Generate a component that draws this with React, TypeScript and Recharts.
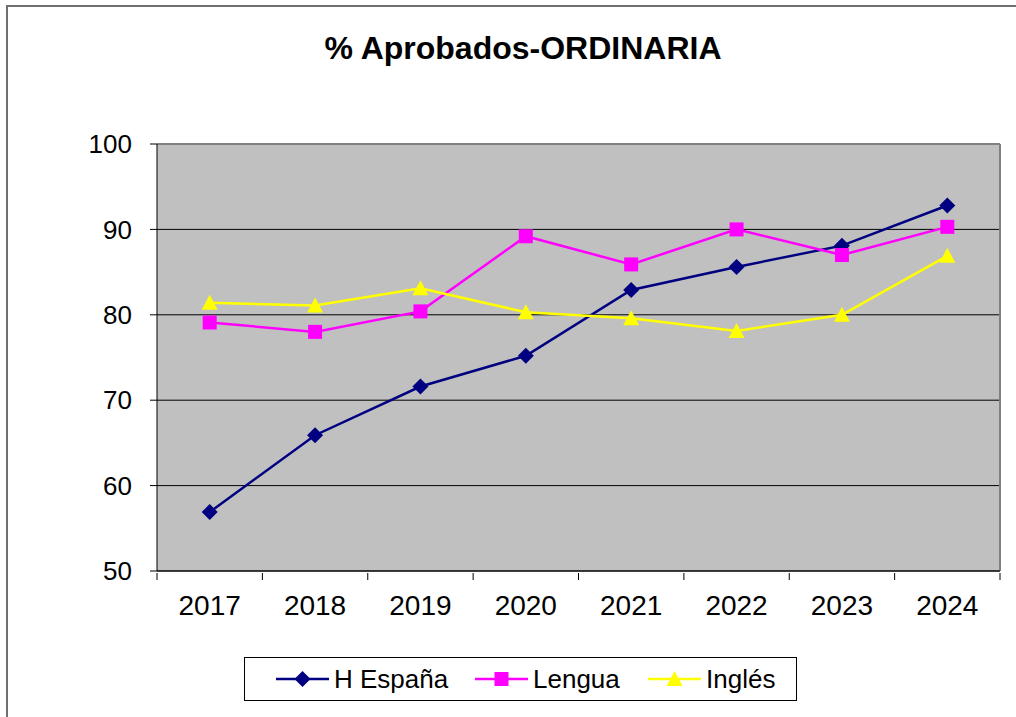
import { CartesianGrid, Legend, Line, LineChart, ReferenceLine, XAxis, YAxis } from "recharts"

const categories = ["2017", "2018", "2019", "2020", "2021", "2022", "2023", "2024"]
const hEspana = [56.9, 65.9, 71.6, 75.2, 82.9, 85.6, 88.1, 92.8]
const lengua = [79.1, 78.0, 80.4, 89.2, 85.9, 90.0, 87.0, 90.3]
const ingles = [81.4, 81.1, 83.1, 80.3, 79.6, 78.1, 80.0, 86.9]
const yTicks = [50, 60, 70, 80, 90, 100]
const seriesOrder = ["hEspana", "lengua", "ingles"]

const data = categories.map((year, i) => ({
  year,
  pos: i + 0.5,
  hEspana: hEspana[i],
  lengua: lengua[i],
  ingles: ingles[i],
}))

// tick lines on the category boundaries, labels in between
const xTicks = categories.flatMap((_, i) => [i, i + 0.5]).concat(categories.length)

const font = "'Liberation Sans', Arial, sans-serif"

const NAVY = "#000080"
const PINK = "#FF00FF"
const YELLOW = "#FFFF00"

function Marker({ shape, cx, cy, color }: { shape: string; cx: number; cy: number; color: string }) {
  if (shape === "diamond") {
    const r = 8
    return <polygon points={`${cx},${cy - r} ${cx + r},${cy} ${cx},${cy + r} ${cx - r},${cy}`} fill={color} />
  }
  if (shape === "square") {
    const r = 7
    return <rect x={cx - r} y={cy - r} width={r * 2} height={r * 2} fill={color} />
  }
  const r = 8
  return <polygon points={`${cx},${cy - r} ${cx + r},${cy + r - 1} ${cx - r},${cy + r - 1}`} fill={color} />
}

const makeDot = (shape: string, color: string) => (props: any) => {
  const { cx, cy, index } = props
  if (cx == null || cy == null) return <g key={index} />
  return <Marker key={index} shape={shape} cx={cx} cy={cy} color={color} />
}

const shapes: Record<string, string> = { hEspana: "diamond", lengua: "square", ingles: "triangle" }

function XTick(props: any) {
  const { x, y, payload } = props
  const v = payload.value as number
  if (Number.isInteger(v)) {
    return <line x1={x} y1={y} x2={x} y2={y + 7} stroke="#000" strokeWidth={1} />
  }
  return (
    <text x={x} y={y + 42} textAnchor="middle" fontSize={28} fontFamily={font} fill="#000">
      {categories[Math.floor(v)]}
    </text>
  )
}

function LegendContent(props: any) {
  const items = [...(props.payload || [])].sort(
    (a: any, b: any) => seriesOrder.indexOf(a.dataKey) - seriesOrder.indexOf(b.dataKey)
  )
  const starts = [31, 230, 403]
  return (
    <div
      style={{
        position: "relative",
        width: 553,
        height: 44,
        boxSizing: "border-box",
        border: "1px solid #000",
        background: "#fff",
        fontFamily: font,
        fontSize: 26,
      }}
    >
      {items.map((p: any, i: number) => (
        <div
          key={p.value}
          style={{ position: "absolute", left: starts[i], top: 0, height: 42, display: "flex", alignItems: "center" }}
        >
          <svg width={53} height={20}>
            <line x1={0} y1={10} x2={53} y2={10} stroke={p.color} strokeWidth={2.5} />
            <Marker shape={shapes[p.dataKey]} cx={26.5} cy={10} color={p.color} />
          </svg>
          <span style={{ marginLeft: 5, whiteSpace: "nowrap" }}>{p.value}</span>
        </div>
      ))}
    </div>
  )
}

export default function App() {
  return (
    <div style={{ position: "fixed", left: 0, top: 0, width: 1016, height: 717, background: "#fff", overflow: "hidden" }}>
      <div
        style={{
          position: "absolute",
          left: 6,
          top: 5,
          width: 1100,
          height: 800,
          borderLeft: "2px solid #707070",
          borderTop: "2px solid #707070",
        }}
      />
      <div
        style={{
          position: "absolute",
          left: 0,
          top: 30,
          width: 1046,
          textAlign: "center",
          fontFamily: font,
          fontWeight: "bold",
          fontSize: 32,
        }}
      >
        % Aprobados-ORDINARIA
      </div>
      <div style={{ position: "absolute", left: 0, top: 0 }}>
        <LineChart width={1016} height={717} data={data} margin={{ top: 144, right: 16, left: 97, bottom: 86 }}>
          <CartesianGrid fill="#C0C0C0" stroke="#000" vertical={false} horizontalValues={yTicks} />
          <XAxis
            type="number"
            dataKey="pos"
            domain={[0, categories.length]}
            ticks={xTicks}
            interval={0}
            tickLine={false}
            tickSize={0}
            tick={<XTick />}
            axisLine={{ stroke: "#000" }}
            height={60}
          />
          <YAxis
            domain={[50, 100]}
            ticks={yTicks}
            interval={0}
            width={60}
            tickSize={7}
            tickMargin={18}
            tickLine={{ stroke: "#000" }}
            axisLine={{ stroke: "#000" }}
            tick={{ fill: "#000", fontSize: 26, fontFamily: font }}
          />
          <ReferenceLine y={100} stroke="#808080" strokeWidth={2} />
          <ReferenceLine x={categories.length} stroke="#808080" strokeWidth={2} />
          <Line
            dataKey="hEspana"
            name="H España"
            stroke={NAVY}
            strokeWidth={2.5}
            dot={makeDot("diamond", NAVY)}
            isAnimationActive={false}
          />
          <Line
            dataKey="lengua"
            name="Lengua"
            stroke={PINK}
            strokeWidth={2.5}
            dot={makeDot("square", PINK)}
            isAnimationActive={false}
          />
          <Line
            dataKey="ingles"
            name="Inglés"
            stroke={YELLOW}
            strokeWidth={2.5}
            dot={makeDot("triangle", YELLOW)}
            isAnimationActive={false}
          />
          <Legend
            layout="horizontal"
            verticalAlign="middle"
            align="center"
            wrapperStyle={{ left: 244, top: 657, width: 553, height: 44 }}
            content={<LegendContent />}
          />
        </LineChart>
      </div>
    </div>
  )
}
